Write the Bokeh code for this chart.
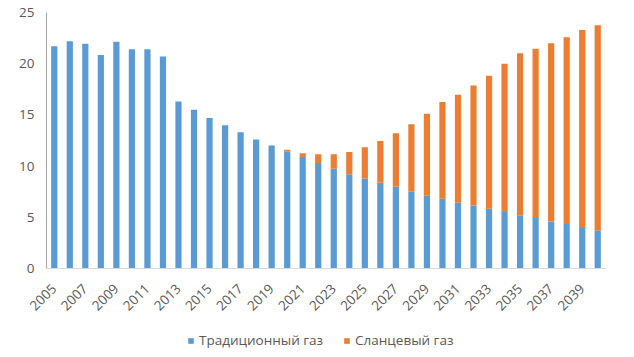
import math
from bokeh.plotting import figure
from bokeh.layouts import column
from bokeh.models import Range1d, FixedTicker, Legend, LegendItem, ColumnDataSource
from bokeh.embed import file_html
from bokeh.resources import INLINE

years = list(range(2005, 2041))
traditional = [21.7, 22.2, 21.95, 20.85, 22.15, 21.4, 21.4, 20.7, 16.3, 15.5,
               14.7, 14.0, 13.3, 12.6, 12.0, 11.4, 10.9, 10.3, 9.73, 9.2,
               8.78, 8.37, 7.98, 7.49, 7.1, 6.81, 6.42, 6.16, 5.84, 5.51,
               5.19, 4.93, 4.6, 4.35, 3.96, 3.73]
shale = [0, 0, 0, 0, 0, 0, 0, 0, 0, 0,
         0, 0, 0, 0, 0, 0.2, 0.36, 0.85, 1.43, 2.17,
         3.06, 4.09, 5.23, 6.6, 8.02, 9.45, 10.55, 11.7, 12.99, 14.48,
         15.83, 16.53, 17.39, 18.23, 19.33, 20.03]
series_names = ["Традиционный газ", "Сланцевый газ"]
series_colors = ["#5B9BD5", "#ED7D31"]
y_ticks = [0, 5, 10, 15, 20, 25]
x_ticks = list(range(2005, 2040, 2))

FONT = "Open Sans"
TXT = "#595959"
FS = "13.5px"

src = ColumnDataSource(dict(year=years, trad=traditional, shale=shale))

p = figure(width=630, height=328, frame_width=559, frame_height=256,
           output_backend="svg", toolbar_location=None,
           x_range=Range1d(2004.5, 2040.5), y_range=Range1d(0, 25),
           min_border_left=46, min_border_right=25, min_border_top=12,
           min_border_bottom=60)
p.outline_line_color = None
p.xgrid.visible = False
p.ygrid.visible = False

rs = p.vbar_stack(["trad", "shale"], x="year", width=0.4, source=src,
                  color=series_colors, line_color=None)

# axes
p.yaxis.ticker = FixedTicker(ticks=y_ticks)
p.yaxis.axis_line_color = "#A6A6A6"
p.yaxis.major_tick_line_color = None
p.yaxis.minor_tick_line_color = None
p.yaxis.major_tick_out = 0
p.yaxis.major_tick_in = 0
p.yaxis.major_label_standoff = 12
p.yaxis.major_label_text_font = FONT
p.yaxis.major_label_text_font_size = FS
p.yaxis.major_label_text_color = TXT

p.xaxis.ticker = FixedTicker(ticks=x_ticks)
p.xaxis.axis_line_color = "#D9D9D9"
p.xaxis.major_tick_line_color = None
p.xaxis.minor_tick_line_color = None
p.xaxis.major_tick_out = 0
p.xaxis.major_tick_in = 0
p.xaxis.major_label_orientation = math.pi / 4
p.xaxis.major_label_standoff = 18
p.xaxis.major_label_text_font = FONT
p.xaxis.major_label_text_font_size = FS
p.xaxis.major_label_text_color = TXT

# legend strip below the chart (hidden swatch renderers, legend only)
p2 = figure(width=630, height=24, frame_width=559, frame_height=24,
            output_backend="svg", toolbar_location=None,
            x_range=Range1d(2004.5, 2040.5), y_range=Range1d(0, 25),
            min_border_left=46, min_border_right=25, min_border_top=0,
            min_border_bottom=0)
p2.axis.visible = False
p2.xgrid.visible = False
p2.ygrid.visible = False
p2.outline_line_color = None
swatches = p2.vbar_stack(["trad", "shale"], x="year", width=0.4, source=src,
                         color=series_colors, line_color=None)
for r in swatches:
    r.visible = False

legend = Legend(items=[LegendItem(label=series_names[0], renderers=[swatches[0]]),
                       LegendItem(label=series_names[1], renderers=[swatches[1]])],
                orientation="horizontal", location=(141, 3),
                glyph_width=7, glyph_height=7, label_standoff=5, spacing=20,
                padding=0, margin=0, border_line_color=None,
                background_fill_alpha=0, inactive_fill_alpha=0,
                label_text_font=FONT, label_text_font_size=FS,
                label_text_color=TXT)
p2.add_layout(legend, "center")

open("out.html", "w").write(file_html(column(p, p2, spacing=0), INLINE))
